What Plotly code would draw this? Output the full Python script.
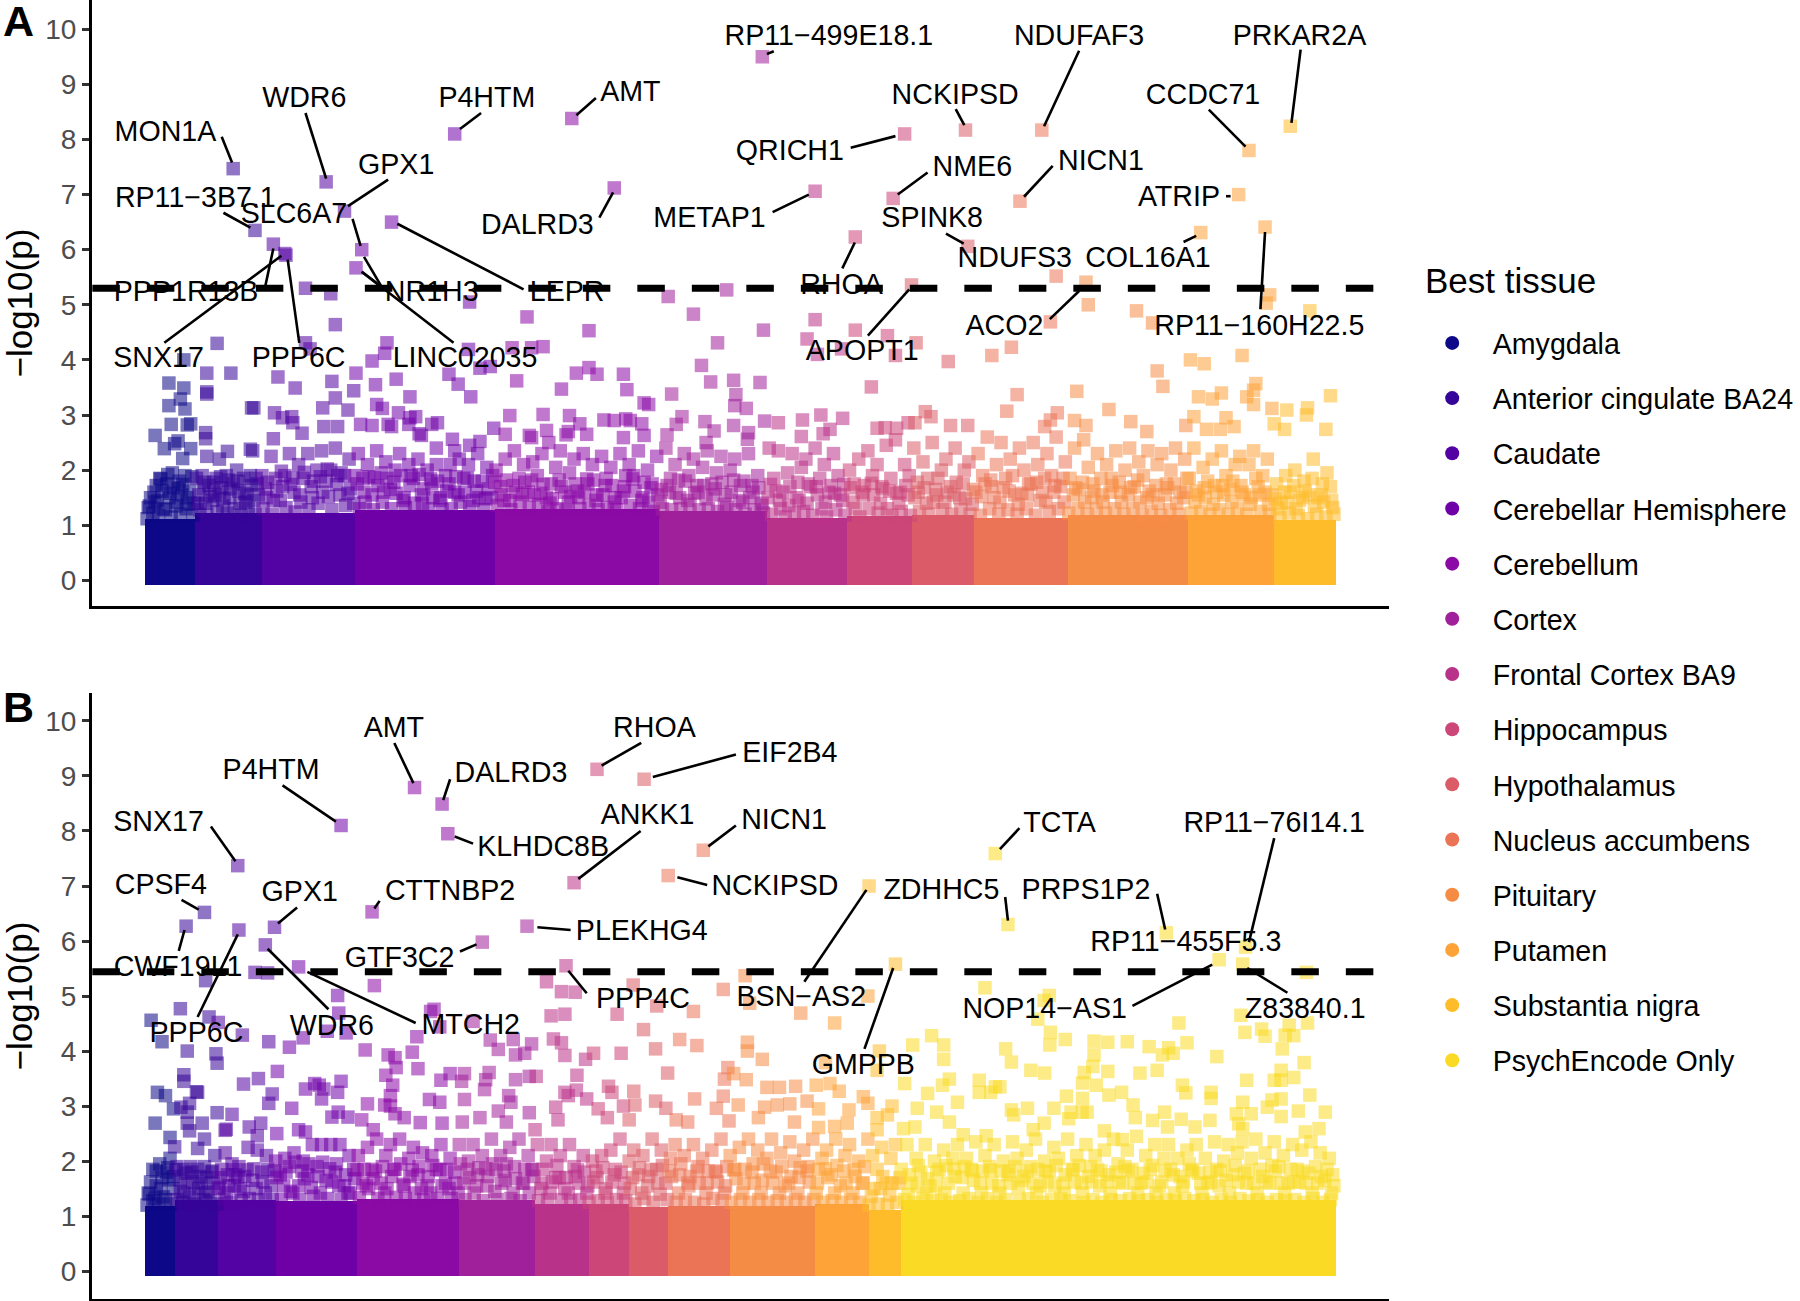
import numpy as np
import plotly.graph_objects as go

TISSUES = ["Amygdala", "Anterior cingulate BA24", "Caudate", "Cerebellar Hemisphere", "Cerebellum", "Cortex",
           "Frontal Cortex BA9", "Hippocampus", "Hypothalamus", "Nucleus accumbens", "Pituitary", "Putamen",
           "Substantia nigra", "PsychEncode Only"]
COLORS = ["#0D0887", "#350498", "#5302A3", "#6F00A8", "#8B0AA5", "#A01F9A", "#B93289", "#CC4678", "#DB5C68",
          "#EB7457", "#F58C46", "#FDA338", "#FEBC2A", "#FADA24"]

# Tissue extents along the genome-order axis
A_EDGES = [126, 170, 228, 309, 431, 574, 668, 738, 794, 848, 930, 1035, 1110, 1164]
B_EDGES = [126, 152, 190, 240, 311, 400, 466, 513, 548, 582, 636, 710, 757, 785, 1164]
# Height up to which each tissue's points merge into a solid mass
A_MASS = [1.12, 1.22, 1.22, 1.28, 1.3, 1.26, 1.14, 1.16, 1.18, 1.14, 1.18, 1.18, 1.1]
B_MASS = [1.18, 1.28, 1.28, 1.26, 1.3, 1.28, 1.22, 1.22, 1.16, 1.18, 1.18, 1.22, 1.1, 1.28]
MASS_FLOOR = -0.09

A_POINTS = [
    (203,7.47),(284,7.23),(396,8.1),(498,8.38),(300,6.7),(341,6.5),(535,7.12),(222,6.35),(238,6.1),(249,5.9),(248,5.93),
    (315,6.0),(310,5.67),(266,5.3),(288,5.2),(409,5.05),(189,4.3),(160,4.0),(147,3.58),(180,3.76),(201,3.76),(160,3.49),
    (180,3.42),(180,3.38),(147,3.17),(157,3.29),(161,3.11),(149,2.83),(166,2.84),(163,2.82),(135,2.63),(155,2.53),(152,2.48),
    (143,2.39),(166,2.39),(159,2.21),(179,2.68),(179,2.57),(219,3.13),(221,3.13),(220,2.35),(218,2.38),(198,2.34),(180,2.25),
    (191,2.2),(242,3.69),(257,3.49),(289,3.61),(292,4.64),(266,4.31),(270,4.2),(292,3.31),(281,3.13),(239,3.04),(246,2.95),
    (254,2.97),(255,2.86),(263,2.67),(238,2.57),(282,2.79),(294,2.79),(303,3.09),(308,3.44),(310,3.76),(324,3.98),(335,4.12),
    (337,4.31),(327,3.55),(345,3.65),(357,3.33),(328,3.19),(333,3.12),(347,3.04),(357,2.95),(362,2.97),(314,2.83),(324,2.81),
    (338,2.83),(341,2.79),(356,2.83),(365,2.66),(367,2.63),(376,2.83),(381,2.86),(391,3.74),(399,3.56),(410,3.33),(418,3.85),
    (427,3.88),(408,4.19),(446,4.22),(463,4.22),(473,4.24),(459,4.78),(513,4.53),(502,3.76),(513,3.86),(520,3.74),(450,3.62),
    (489,3.47),(543,3.74),(546,3.46),(585,3.38),(561,3.22),(565,3.19),(444,2.99),(473,3.01),(496,2.99),(430,2.76),(440,2.65),
    (476,2.72),(495,2.7),(505,2.84),(493,2.64),(511,2.65),(526,2.91),(535,2.9),(545,2.93),(549,2.9),(559,2.84),(594,2.97),
    (589,2.83),(581,2.64),(543,2.59),(561,2.63),(394,2.56),(418,2.52),(380,2.4),(396,2.35),(409,2.45),(478,2.5),(461,2.63),(463,2.59),
    (582,5.15),(604,4.83),(664,9.5),(788,8.1),(841,8.17),(907.5,8.17),(1124,8.24),(1088,7.8),(1079,7.0),(710,7.06),(778,6.93),
    (888.5,6.88),(1046,6.31),(1102,6.41),(745,6.23),(843,6.06),(920,5.52),(946,5.41),(633,5.27),(794,5.36),(1106,5.18),(1103,5.03),
    (948,5.0),(990,4.89),(1141,4.89),(1004,4.67),(915,4.69),(710,4.73),(665,4.54),(745,4.54),(703,4.38),(625,4.31),(773,4.44),
    (798,4.31),(712,4.1),(733,4.2),(780,4.08),(881,4.23),(864,4.08),(826,3.97),(1037,4.0),(1049,3.93),(1082,4.08),(1008,3.8),
    (1013,3.52),(611,3.9),(619,3.6),(639,3.63),(662,3.59),(759,3.51),(641,3.37),(886,3.37),(938,3.43),(1094,3.57),(1092,3.45),
    (1086,3.33),(1044,3.33),(1056,3.29),(1064,3.4),(1092,3.19),(1159,3.35),(640,3.17),(650,3.12),(877,3.07),(966,3.1),(806,3.06),
    (811,2.97),(921,3.04),(1108,3.12),(1121,3.09),(1139,3.13),(1138,3.0),(1040,2.97),(936,2.9),(985,2.88),(666,2.89),(678,2.86),
    (699,2.91),(715,3.0),(734,2.94),(614,2.88),(639,2.81),(622,2.71),(791,2.86),(797,2.86),(781,2.76),(771,2.77),(764,2.76),
    (843,2.81),(828,2.81),(915,2.91),(910,2.79),(946,2.81),(1033,2.81),(1068,2.95),(1051,2.74),(1063,2.74),(1075,2.79),(1110,2.84),
    (1155,2.74),(1119,2.74),(999,2.7),(698,2.61),(717,2.66),(723,2.74),(652,2.68),(615,2.5),(651,2.56),
    # 1 to 2.5 band
    (130,1.35),(134,1.6),(137,1.45),(139,1.85),(142,1.3),(145,1.75),(147,1.5),(150,1.95),(153,1.35),(156,1.8),(158,1.55),(161,1.9),
    (164,1.38),(167,1.88),(169,1.4),(173,1.55),(176,1.9),(179,1.4),(182,1.72),(185,1.45),(188,1.85),(191,1.6),(194,1.35),(197,1.9),
    (200,1.5),(203,1.75),(206,2.0),(209,1.4),(212,1.85),(215,1.55),(218,1.9),(221,1.45),(224,1.75),(228,1.9),(232,1.5),(236,2.25),
    (240,1.85),(244,1.45),(248,1.9),(252,2.3),(256,1.6),(260,2.1),(264,1.85),(268,2.3),(272,1.5),(276,2.0),(280,2.35),(284,1.8),
    (288,2.0),(292,2.4),(296,1.55),(300,1.9),(304,2.2),(308,1.4),(312,2.3),(316,1.85),(320,2.1),(324,1.55),(328,2.35),(332,1.95),
    (336,2.15),(340,1.65),(344,2.0),(348,2.3),(352,1.5),(356,2.1),(360,1.85),(364,2.2),(368,1.4),(372,2.0),(376,1.75),(380,2.1),
    (384,1.5),(388,1.9),(392,2.1),(396,1.6),(400,2.2),(404,1.85),(408,2.1),(412,1.45),(416,2.3),(420,1.8),(424,2.05),(428,1.5),
    (432,2.0),(436,1.7),(440,2.2),(444,1.45),(448,2.35),(452,1.85),(456,2.1),(460,1.6),(464,2.15),(468,1.9),(472,2.3),(476,1.5),
    (480,1.75),(484,2.05),(488,2.35),(492,1.6),(496,1.95),(500,2.2),(504,1.5),(508,2.3),(512,1.75),(516,2.1),(520,1.55),(524,2.25),
    (528,1.85),(532,2.05),(536,1.5),(540,2.3),(544,1.7),(548,2.1),(552,1.9),(556,2.35),(560,1.5),(564,2.0),(568,1.75),(572,2.25),
    (576,1.65),(580,2.4),(584,1.85),(588,2.1),(592,1.5),(596,2.3),(600,1.9),(604,2.2),(608,1.6),(612,2.05),(616,2.35),(620,1.75),
    (624,1.95),(628,2.25),(632,1.55),(636,2.0),(640,2.2),(644,1.45),(648,1.8),(652,2.3),(656,1.6),(660,1.9),(664,1.4),(670,2.4),
    (674,1.85),(678,2.35),(682,1.6),(686,1.95),(690,2.3),(694,1.5),(698,2.05),(702,2.2),(706,1.7),(710,2.4),(714,1.85),(718,2.1),
    (722,1.6),(726,2.3),(730,1.9),(734,1.45),(740,2.0),(744,1.75),(748,2.2),(752,1.55),(756,2.35),(760,1.9),(764,2.1),(768,1.7),
    (772,2.45),(776,1.85),(780,2.55),(784,1.6),(788,2.1),(792,1.9),(796,2.4),(800,1.6),(804,2.15),(808,1.85),(812,2.5),(816,1.55),
    (820,2.0),(824,2.2),(828,1.7),(832,2.4),(836,1.5),(840,2.0),(844,2.15),(848,1.65),(852,2.3),(856,1.9),(860,2.6),(864,1.7),
    (868,2.1),(872,2.5),(876,1.85),(880,2.2),(884,1.55),(888,2.4),(892,2.0),(896,1.75),(900,2.5),(904,2.1),(908,1.6),(912,2.3),
    (916,1.9),(920,2.6),(924,1.7),(928,2.15),(932,1.85),(936,2.4),(940,1.65),(944,2.55),(948,2.05),(952,1.75),(956,2.3),(960,1.55),
    (964,2.1),(968,1.85),(972,2.35),(976,1.6),(980,2.0),(984,2.4),(988,1.7),(992,2.15),(996,1.9),(1000,2.35),(1004,1.55),(1008,2.1),
    (1012,2.3),(1016,1.75),(1020,2.0),(1024,2.4),(1028,1.6),(1032,2.2),(1036,1.85),(1040,2.4),(1044,1.55),(1048,2.05),(1052,1.8),
    (1056,2.2),(1060,1.6),(1064,2.35),(1068,1.9),(1072,1.65),(1076,2.1),(1080,2.25),(1084,1.55),(1088,2.1),(1092,2.35),(1096,1.7),
    (1100,1.9),(1104,2.2),(1108,1.55),(1112,1.75),(1116,1.4),(1120,1.9),(1124,1.6),(1128,2.0),(1132,1.45),(1136,1.8),(1140,1.55),
    (1144,2.2),(1148,1.5),(1152,1.75),(1156,1.95),(1160,1.45),
]

# Crowded points just above the solid mass, panel A
A_DENSE = [
    (128,1.12),(131,1.5),(133,1.22),(136,1.72),(138,1.18),(141,1.62),(144,1.28),(146,1.92),(149,1.15),(151,1.68),(154,1.42),(157,1.2),(159,1.74),
    (162,1.3),(165,1.62),(168,1.18),(171,1.85),(174,1.28),(177,1.66),(180,1.2),(183,1.52),(186,1.78),(189,1.25),(192,1.88),(195,1.48),(198,1.22),
    (201,1.66),(204,1.3),(207,1.8),(210,1.18),(213,1.58),(216,1.3),(219,1.72),(222,1.2),(225,1.55),(229,1.3),(233,1.78),(237,1.2),(241,1.62),(245,1.98),
    (249,1.32),(253,1.74),(257,1.24),(261,1.55),(265,1.96),(269,1.28),(273,1.8),(277,1.4),(281,1.6),(285,2.02),(289,1.28),(293,1.74),(297,1.95),
    (301,1.36),(305,1.66),(309,1.9),(313,1.3),(317,1.6),(321,1.88),(325,1.28),(329,1.72),(333,1.42),(337,1.85),(341,1.3),(345,1.58),(349,1.9),
    (353,1.32),(357,1.72),(361,1.4),(365,1.92),(369,1.66),(373,1.3),(377,1.5),(381,1.8),(385,1.28),(389,1.62),(393,1.3),(397,1.88),(401,1.42),
    (405,1.6),(409,1.34),(413,1.8),(417,1.5),(421,1.28),(425,1.66),(429,1.9),(433,1.36),(437,1.55),(441,1.82),(445,1.28),(449,1.6),(453,1.42),
    (457,1.78),(461,1.32),(465,1.55),(469,1.38),(473,1.74),(477,1.25),(481,1.48),(485,1.3),(489,1.7),(493,1.28),(497,1.52),(501,1.75),(505,1.3),
    (509,1.6),(513,1.36),(517,1.82),(521,1.28),(525,1.55),(529,1.32),(533,1.72),(537,1.28),(541,1.5),(545,1.9),(549,1.36),(553,1.62),(557,1.3),
    (561,1.78),(565,1.42),(569,1.25),(573,1.55),(577,1.3),(581,1.72),(585,1.28),(589,1.58),(593,1.3),(597,1.8),(601,1.38),(605,1.58),(609,1.28),
    (613,1.72),(617,1.3),(621,1.55),(625,1.25),(629,1.78),(633,1.32),(637,1.6),(641,1.28),(645,1.72),(649,1.2),(653,1.5),(657,1.28),(661,1.68),
    (665,1.22),(669,1.5),(672,1.2),(676,1.62),(680,1.3),(684,1.15),(688,1.7),(692,1.22),(696,1.45),(700,1.25),(704,1.75),(708,1.18),(712,1.55),
    (716,1.3),(720,1.15),(724,1.72),(728,1.28),(732,1.55),(736,1.18),(741,1.68),(745,1.3),(749,1.15),(753,1.72),(757,1.3),(761,1.55),(765,1.22),
    (769,1.66),(773,1.3),(777,1.18),(781,1.58),(785,1.25),(789,1.72),(793,1.18),(797,1.5),(801,1.25),(805,1.68),(809,1.2),(813,1.42),(817,1.85),
    (821,1.28),(825,1.6),(829,1.2),(833,1.78),(837,1.28),(841,1.48),(845,1.2),(850,1.6),(854,1.18),(858,1.75),(862,1.3),(866,1.5),(870,1.2),
    (874,1.68),(878,1.28),(882,1.9),(886,1.2),(890,1.58),(894,1.3),(898,1.75),(902,1.18),(906,1.45),(910,1.85),(914,1.25),(918,1.6),(922,1.3),
    (926,1.85),(931,1.22),(935,1.55),(939,1.3),(943,1.78),(947,1.2),(951,1.5),(955,1.3),(959,1.85),(963,1.22),(967,1.6),(971,1.3),(975,1.78),
    (979,1.2),(983,1.55),(987,1.3),(991,1.82),(995,1.18),(999,1.5),(1003,1.25),(1007,1.72),(1011,1.18),(1015,1.55),(1019,1.28),(1023,1.75),
    (1027,1.2),(1031,1.5),(1034,1.85),(1038,1.22),(1042,1.62),(1046,1.25),(1050,1.5),(1054,1.2),(1058,1.72),(1062,1.28),(1066,1.55),(1070,1.2),
    (1074,1.8),(1078,1.3),(1082,1.6),(1086,1.2),(1090,1.5),(1094,1.85),(1098,1.25),(1102,1.6),(1106,1.2),(1111,1.48),(1115,1.14),(1119,1.6),
    (1123,1.22),(1127,1.72),(1131,1.18),(1135,1.5),(1139,1.12),(1143,1.85),(1147,1.2),(1151,1.55),(1155,1.15),(1159,1.7),(1162,1.2),
    # Second layer of the crowded band
    (129,1.32),(135,1.42),(140,1.84),(148,1.58),(155,1.66),(163,1.5),(172,1.4),(178,1.78),(187,1.55),(193,1.68),(199,1.82),(208,1.62),(214,1.42),
    (223,1.85),(231,1.66),(238,1.45),(246,1.7),(255,1.86),(262,1.42),(271,1.7),(279,1.88),(286,1.52),(294,1.9),(303,1.58),(311,1.75),(318,1.42),
    (326,1.86),(334,1.6),(343,1.78),(351,1.45),(358,1.9),(367,1.55),(375,1.84),(383,1.45),(391,1.75),(399,1.55),(407,1.86),(415,1.62),(423,1.48),
    (431,1.78),(439,1.45),(447,1.72),(455,1.56),(463,1.82),(471,1.58),(479,1.4),(487,1.82),(495,1.42),(503,1.62),(511,1.84),(519,1.45),(527,1.72),
    (535,1.42),(543,1.62),(551,1.84),(559,1.45),(567,1.68),(575,1.42),(583,1.6),(591,1.82),(599,1.45),(607,1.72),(615,1.48),(623,1.66),(631,1.38),
    (639,1.82),(647,1.42),(655,1.72),(663,1.36),(671,1.74),(679,1.45),(687,1.36),(695,1.78),(703,1.4),(711,1.7),(719,1.42),(727,1.58),(735,1.74),
    (743,1.42),(751,1.6),(759,1.76),(767,1.4),(775,1.62),(783,1.4),(791,1.55),(799,1.78),(807,1.4),(815,1.65),(823,1.42),(831,1.55),(839,1.75),
    (847,1.38),(855,1.52),(863,1.82),(871,1.42),(879,1.62),(887,1.38),(895,1.55),(903,1.78),(911,1.42),(919,1.72),(927,1.42),(937,1.68),(945,1.42),
    (953,1.62),(961,1.42),(969,1.72),(977,1.42),(985,1.68),(993,1.42),(1001,1.62),(1009,1.4),(1017,1.68),(1025,1.4),(1033,1.6),(1041,1.42),
    (1049,1.68),(1057,1.38),(1065,1.72),(1073,1.42),(1081,1.72),(1089,1.38),(1097,1.55),(1105,1.38),(1113,1.3),(1121,1.42),(1129,1.3),(1137,1.62),
    (1145,1.35),(1153,1.42),(1161,1.32),
]

B_POINTS = [
    (207,7.37),(297,8.1),(361,8.79),(385,8.49),(390,7.95),(520,9.12),(561,8.94),(500,7.06),(612.6,7.65),(582,7.19),(178,6.52),(162,6.27),
    (208,6.2),(239,6.25),(324,6.53),(459,6.27),(420,5.98),(231,5.93),(260,5.53),(222,5.43),(233,5.42),(493,5.55),(179,5.28),(326,5.19),
    (476,5.26),(294,5.01),(489,5.08),(501,5.07),(551.5,5.2),(157,4.77),(295,4.69),(378,4.76),(375,4.72),(131.5,4.56),(182,4.62),(190,4.52),
    (412,4.54),(480,4.64),(492,4.67),(537.5,4.67),(572,4.82),(604,4.72),(141,4.17),(163,4.0),(211,4.29),(234,4.17),(252,4.07),(264,4.24),
    (285,4.36),(301.4,4.33),(318,4.02),(363,4.26),(383,4.44),(427,4.2),(447,4.21),(463,4.13),(434,4.03),(482,4.22),(489,4.15),(492,3.92),
    (560.5,4.39),(592,4.21),(571,4.04),(607,4.1),(188,3.95),(189,3.78),(338,3.93),(344,3.88),(345,3.7),(359,3.98),(364,3.68),(449,3.93),
    (457,3.96),(510,3.85),(517,3.96),(541,3.96),(581.5,3.6),(241.5,3.63),(160,3.57),(160,3.45),(225,3.5),(212,3.4),(336,3.56),(342,3.38),
    (384,3.47),(392,3.59),(402,3.45),(404.5,3.59),(426,3.61),(423,3.48),(422,3.3),(449,3.48),(461,3.54),(467,3.54),(502.5,3.56),(137,3.25),
    (144,3.19),(172,3.25),(171,3.26),(274,3.41),(278,3.38),(297,3.45),(266,3.31),(282,3.31),(294,3.25),(280,3.13),(237,3.22),(234,3.05),
    (254,2.96),(340,3.19),(340,3.0),(320,3.04),(335,3.02),(374,3.12),(383,3.07),(404.5,3.12),(443,3.19),(445,3.07),(502,3.29),(492,3.25),
    (495,3.19),(530,3.36),(533,3.25),(552,3.27),(543,3.0),(553,3.02),(571,3.09),(605,3.13),(580,2.96),(165,3.05),(151,2.95),(157.5,2.98),
    (163,2.89),(484,2.98),(511,3.13),(521,2.95),(189,2.88),(202,2.85),(135,2.69),(163,2.69),(176,2.69),(165,2.55),(197,2.58),(196,2.56),
    (217,2.62),(227,2.69),(148,2.43),(178,2.4),(152,2.26),(172,2.23),(224,2.46),(241,2.5),(260,2.57),(266,2.53),(289,2.8),(294.5,2.89),
    (303,2.8),(315,2.75),(325,2.57),(344,2.86),(352,2.79),(366,2.7),(385,2.69),(402.6,2.71),(418,2.79),(434,2.91),(441,2.71),(461,2.88),
    (486,2.75),(466,2.57),(529,2.79),(548,2.75),(589,2.75),(599,2.71),
    (757,7.0),(867,7.59),(878,6.3),(1016,6.15),(1085,5.89),(1062,5.66),(1082.6,5.58),(1138,5.43),(780,5.58),(649,5.37),(630,5.12),(653,4.87),
    (756,5.0),(697.5,4.69),(727,4.51),(858,5.15),(909.5,4.92),(914,5.01),(904,4.58),(1027,4.51),(1081,4.65),(1139,4.51),(915,4.34),(914.5,4.11),
    (928,4.21),(953,4.18),(965,4.16),(982,4.17),(953,3.93),(1001,4.08),(1018,4.06),(1022,3.96),(1012.6,3.93),(1034,4.15),(1060,3.9),(1084.5,4.34),
    (1099,4.4),(1102,4.27),(1123,4.47),(1119.5,4.29),(1127,4.28),(1117,4.04),(1136,3.79),(766,4.0),(795,4.11),(811.5,4.28),(822,4.11),(822,3.85),
    (876,4.04),(881,3.8),(898,3.65),(910,3.6),(944.5,3.61),(952,3.72),(965,3.63),(993,3.6),(1008,3.65),(943,3.42),(955,3.38),(966,3.2),(977,3.25),
    (853,3.47),(867,3.35),(871,3.35),(863,3.25),(853,3.25),(821,3.38),(827,3.49),(808,3.23),(834,3.07),(929,3.18),(943,3.14),(1030,3.38),(1033,3.24),
    (1055,3.25),(1055,3.14),(1086,3.47),(1116,3.65),(1110,3.47),(1127,3.52),(1116,3.47),(1141,3.2),(1082.6,3.07),(1116,3.13),(1108,3.11),(1104,2.98),
    (987,3.02),(989,2.79),(942.6,2.89),(918,2.96),(895,2.96),(881,2.93),(883,2.84),(933,2.89),(947,2.89),(931,2.77),(1014.5,2.89),(1004,2.74),
    (1029,2.76),(1054,2.74),(1077,2.86),(1090,2.86),(1079,2.68),(1116,2.81),(1131,2.91),(1154.5,2.89),(1149,2.59),(1137,2.53),(1082.6,2.59),
    (1041,2.62),(1017,2.62),(977.6,2.39),(962,2.55),(909.5,2.69),(900,2.57),(859,2.46),(839,2.48),(827,2.71),(797,2.62),(799,2.96),(816,2.89),
    (777,3.0),(773,2.84),(756,3.05),(739.5,2.93),(752,3.17),(731,3.27),(723,3.41),(788,3.41),(764,3.65),(719,3.79),(664,3.85),(651,4.16),(651,4.0),
    (634,3.7),(639,3.59),(631,3.49),(650,3.48),(668,3.34),(679,3.34),(693,3.36),(711,3.38),(630,3.18),(643,3.02),(624,2.96),(666,2.98),(677,3.02),
    (688,3.04),(703,3.09),(635,2.73),(660.6,2.79),(692,2.71),(713,2.95),(713,2.61),(727,2.63),(738,2.69),(764,2.79),(764,2.57),(787,2.59),
    # 1 to 2.5 band
    (130,1.4),(133,1.85),(136,1.55),(139,1.95),(142,1.35),(145,1.8),(148,2.05),(151,1.5),(154,1.9),(157,1.45),(160,1.85),(163,1.6),(166,1.9),
    (169,1.4),(172,1.85),(175,1.6),(178,1.9),(181,1.45),(184,1.8),(187,2.1),(190,1.5),(193,1.85),(196,2.15),(199,1.55),(202,1.95),(205,1.75),
    (208,1.9),(212,1.45),(216,2.25),(220,1.65),(224,2.2),(228,1.8),(232,2.1),(236,1.55),(240,2.0),(244,1.75),(248,2.05),(252,1.9),(256,2.15),
    (260,1.55),(264,2.0),(268,1.75),(272,2.3),(276,1.9),(280,2.3),(284,1.65),(288,2.3),(292,1.8),(296,2.3),(300,1.55),(304,2.1),(308,1.85),
    (312,2.1),(316,1.6),(320,2.25),(324,1.85),(328,2.4),(332,1.6),(336,2.1),(340,2.3),(344,1.85),(348,2.4),(352,1.55),(356,2.05),(360,2.25),
    (364,1.75),(368,2.15),(372,1.55),(376,2.1),(380,1.85),(384,2.3),(388,1.6),(392,2.05),(396,1.8),(400,2.3),(404,1.6),(408,2.0),(412,2.3),
    (416,1.75),(420,2.1),(424,1.55),(428,2.4),(432,1.85),(436,2.1),(440,1.65),(444,2.25),(448,1.9),(452,2.4),(456,1.6),(460,2.1),(464,1.85),
    (468,2.3),(472,1.6),(476,2.0),(480,2.3),(484,1.7),(488,2.1),(492,1.5),(496,2.3),(500,1.9),(504,1.6),(508,2.1),(512,1.55),(516,2.0),(520,1.7),
    (524,2.1),(528,1.5),(532,2.2),(536,1.85),(540,2.4),(544,1.6),(548,2.0),(552,2.2),(556,1.75),(560,2.1),(564,1.55),(568,2.4),(572,1.85),
    (576,2.2),(580,1.6),(584,2.05),(588,2.3),(592,1.75),(596,2.1),(600,1.55),(604,2.3),(608,1.9),(612,2.05),(616,1.6),(620,2.2),(624,1.8),
    (628,2.4),(632,1.55),(636,2.1),(640,1.85),(644,2.25),(648,1.6),(652,2.4),(656,1.95),(660,2.2),(664,1.65),(668,2.05),(672,2.4),(676,1.8),
    (680,2.15),(684,1.55),(688,2.35),(692,2.0),(696,1.7),(700,2.2),(704,1.9),(708,2.4),(712,1.6),(716,2.05),(720,2.2),(724,1.75),(728,2.4),
    (732,1.55),(736,2.1),(740,2.3),(744,1.85),(748,2.0),(752,1.6),(756,2.4),(760,2.1),(764,1.85),(768,2.25),(772,1.6),(776,2.05),(780,2.3),
    (784,1.7),(790,2.3),(794,1.6),(798,2.05),(802,1.8),(806,2.3),(810,1.55),(814,2.0),(818,1.85),(822,2.2),(826,1.6),(830,2.05),(834,2.3),
    (838,1.7),(842,2.05),(846,1.85),(850,2.35),(854,1.6),(858,2.1),(862,1.9),(866,2.3),(870,1.55),(874,2.0),(878,1.75),(882,2.35),(886,2.05),
    (890,1.65),(894,2.2),(898,1.9),(902,2.4),(906,1.55),(910,2.0),(914,1.8),(918,2.25),(922,2.05),(926,1.6),(930,2.4),(934,1.85),(938,2.1),
    (942,1.6),(946,2.3),(950,1.9),(954,2.1),(958,1.55),(962,2.2),(966,1.75),(970,2.4),(974,1.95),(978,1.6),(982,2.2),(986,1.85),(990,2.45),
    (994,1.6),(998,2.1),(1002,1.85),(1006,2.3),(1010,1.55),(1014,2.05),(1018,2.3),(1022,1.75),(1026,2.05),(1030,1.55),(1034,2.2),(1038,1.85),
    (1042,2.3),(1046,1.6),(1050,2.05),(1054,1.8),(1058,2.35),(1062,1.55),(1066,2.0),(1070,2.3),(1074,1.75),(1078,2.15),(1082,2.35),(1086,1.6),
    (1090,2.05),(1094,2.4),(1098,1.85),(1102,2.15),(1106,1.6),(1110,2.35),(1114,1.9),(1118,2.1),(1122,1.6),(1126,2.3),(1130,1.85),(1134,2.2),
    (1138,1.6),(1142,2.35),(1146,1.9),(1150,2.15),(1154,1.65),(1158,2.05),(1161,1.75),
]

# Crowded points just above the solid mass, panel B
B_DENSE = [
    (128,1.2),(131,1.62),(133,1.28),(136,1.82),(138,1.22),(141,1.7),(144,1.3),(146,1.88),(149,1.22),(151,1.72),(154,1.3),(157,1.66),(159,1.25),
    (162,1.78),(165,1.35),(168,1.62),(171,1.22),(174,1.72),(177,1.3),(180,1.7),(183,1.28),(186,1.6),(189,1.22),(192,1.7),(195,1.3),(198,1.75),
    (201,1.25),(204,1.55),(207,1.7),(210,1.28),(213,1.72),(217,1.32),(221,1.86),(225,1.3),(229,1.62),(233,1.85),(237,1.3),(241,1.7),(245,1.3),
    (249,1.8),(253,1.45),(257,1.98),(261,1.3),(265,1.68),(269,1.95),(273,1.36),(277,1.72),(281,1.98),(285,1.32),(289,1.62),(293,1.95),(297,1.3),
    (301,1.75),(305,1.42),(309,1.68),(313,1.34),(317,1.85),(321,1.5),(325,1.68),(329,1.32),(333,1.9),(337,1.5),(341,1.72),(345,1.34),(349,1.95),
    (353,1.32),(357,1.72),(361,1.42),(365,1.9),(369,1.3),(373,1.72),(377,1.92),(381,1.32),(385,1.55),(389,1.85),(393,1.32),(397,1.6),(401,1.95),
    (405,1.3),(409,1.7),(413,1.42),(417,1.88),(421,1.28),(425,1.72),(429,1.95),(433,1.3),(437,1.6),(441,1.95),(445,1.32),(449,1.68),(453,1.28),
    (457,1.85),(461,1.42),(465,1.72),(469,1.28),(473,1.85),(477,1.3),(481,1.62),(485,1.92),(489,1.3),(493,1.7),(497,1.28),(501,1.72),(505,1.3),
    (509,1.8),(513,1.25),(517,1.62),(521,1.28),(525,1.88),(529,1.25),(533,1.62),(537,1.3),(541,1.8),(545,1.28),(549,1.5),(553,1.22),(557,1.88),
    (561,1.32),(565,1.72),(569,1.25),(573,1.6),(577,1.92),(581,1.3),(585,1.72),(589,1.25),(593,1.95),(597,1.3),(601,1.72),(605,1.25),(609,1.6),
    (613,1.22),(617,1.82),(621,1.32),(625,1.62),(629,1.28),(633,1.9),(637,1.25),(641,1.68),(645,1.3),(649,1.85),(653,1.25),(657,1.6),(661,1.3),
    (665,1.95),(669,1.25),(673,1.6),(677,1.28),(681,1.9),(685,1.25),(689,1.72),(693,1.3),(697,1.88),(701,1.25),(705,1.62),(709,1.3),(713,1.85),
    (717,1.25),(721,1.7),(725,1.28),(729,1.92),(733,1.25),(737,1.6),(741,1.3),(745,1.72),(749,1.25),(753,1.9),(757,1.2),(761,1.5),(765,1.22),
    (769,1.72),(773,1.2),(777,1.6),(781,1.25),(785,1.85),(788,1.3),(792,1.75),(796,1.25),(800,1.92),(804,1.32),(808,1.68),(812,1.28),(816,1.8),
    (820,1.3),(824,1.92),(828,1.25),(832,1.72),(836,1.28),(840,1.9),(844,1.32),(848,1.65),(852,1.25),(856,1.82),(860,1.32),(864,1.6),(868,1.25),
    (872,1.82),(876,1.3),(880,1.6),(884,1.9),(888,1.28),(892,1.72),(896,1.32),(900,1.6),(904,1.85),(908,1.25),(912,1.62),(916,1.3),(920,1.92),
    (924,1.32),(928,1.75),(932,1.28),(936,1.62),(940,1.92),(944,1.25),(948,1.72),(952,1.3),(956,1.85),(960,1.25),(964,1.62),(968,1.3),(972,1.8),
    (976,1.28),(980,1.9),(984,1.32),(988,1.6),(992,1.28),(996,1.78),(1000,1.3),(1004,1.92),(1008,1.25),(1012,1.62),(1016,1.3),(1020,1.85),(1024,1.28),
    (1028,1.72),(1032,1.32),(1036,1.95),(1040,1.28),(1044,1.78),(1048,1.3),(1052,1.6),(1056,1.25),(1060,1.85),(1064,1.3),(1068,1.65),(1072,1.25),
    (1076,1.92),(1080,1.32),(1084,1.78),(1088,1.28),(1092,1.6),(1096,1.3),(1100,1.72),(1104,1.25),(1108,1.92),(1112,1.3),(1116,1.6),(1120,1.28),
    (1124,1.85),(1128,1.3),(1132,1.62),(1136,1.25),(1140,1.78),(1144,1.32),(1148,1.6),(1152,1.25),(1156,1.85),(1159,1.3),(1162,1.55),
    # Second layer of the crowded band
    (129,1.42),(135,1.32),(140,1.5),(147,1.66),(153,1.84),(160,1.42),(167,1.8),(173,1.5),(179,1.42),(185,1.82),(191,1.52),(197,1.42),(203,1.84),
    (209,1.5),(215,1.84),(223,1.5),(231,1.42),(239,1.82),(247,1.55),(255,1.42),(263,1.82),(271,1.52),(279,1.42),(287,1.86),(295,1.55),(303,1.42),
    (311,1.84),(319,1.55),(327,1.82),(335,1.42),(343,1.85),(351,1.58),(359,1.84),(367,1.5),(375,1.42),(383,1.84),(391,1.5),(399,1.42),(407,1.85),
    (415,1.55),(423,1.86),(431,1.45),(439,1.82),(447,1.42),(455,1.6),(463,1.84),(471,1.5),(479,1.42),(487,1.7),(495,1.42),(503,1.84),(511,1.42),
    (519,1.82),(527,1.42),(535,1.75),(543,1.42),(551,1.7),(559,1.42),(567,1.84),(575,1.4),(583,1.82),(591,1.42),(599,1.6),(607,1.82),(615,1.42),
    (623,1.82),(631,1.42),(639,1.84),(647,1.42),(655,1.8),(663,1.42),(671,1.82),(679,1.42),(687,1.6),(695,1.42),(703,1.82),(711,1.42),(719,1.86),
    (727,1.42),(735,1.82),(743,1.42),(751,1.6),(759,1.36),(767,1.5),(775,1.38),(783,1.6),(791,1.4),(799,1.55),(807,1.42),(815,1.55),(823,1.42),
    (831,1.86),(839,1.42),(847,1.82),(855,1.42),(863,1.84),(871,1.42),(879,1.82),(887,1.52),(895,1.82),(903,1.42),(911,1.82),(919,1.55),(927,1.42),
    (935,1.84),(943,1.42),(951,1.62),(959,1.82),(967,1.42),(975,1.62),(983,1.82),(991,1.42),(999,1.62),(1007,1.42),(1015,1.82),(1023,1.42),
    (1031,1.62),(1039,1.82),(1047,1.42),(1055,1.62),(1063,1.82),(1071,1.42),(1079,1.62),(1087,1.82),(1095,1.42),(1103,1.62),(1111,1.82),(1119,1.42),
    (1127,1.62),(1135,1.82),(1143,1.42),(1151,1.72),(1160,1.42),
]

THRESHOLD_A = 5.3
THRESHOLD_B = 5.44

# Gene labels: (name, label position, label -log10p)
A_LABELS = [("RP11−499E18.1",722,9.835),("NDUFAF3",940,9.835),("PRKAR2A",1132,9.835),("NCKIPSD",832,8.77),("CCDC71",1048,8.77),
            ("AMT",549,8.82),("P4HTM",424,8.71),("WDR6",265,8.71),("MON1A",144,8.11),("QRICH1",688,7.75),("NME6",847,7.46),
            ("NICN1",959,7.57),("GPX1",345,7.5),("RP11−3B7.1",170,6.9),("SLC6A7",256,6.61),("METAP1",618,6.54),("SPINK8",812,6.54),
            ("ATRIP",1027,6.93),("DALRD3",468,6.42),("NDUFS3",884,5.81),("COL16A1",1000,5.81),("RHOA",733,5.32),("PPP1R13B",162,5.19),
            ("NR1H3",376,5.19),("LEPR",494,5.19),("ACO2",875,4.59),("RP11−160H22.5",1097,4.59),("APOPT1",751,4.13),("SNX17",138,4.0),
            ("PPP6C",260,4.0),("LINC02035",405,4.0)]
B_LABELS = [("AMT",343,9.84),("RHOA",570,9.84),("EIF2B4",688,9.38),("P4HTM",236,9.07),("DALRD3",445,9.02),("SNX17",138,8.13),
            ("ANKK1",564,8.25),("NICN1",683,8.17),("TCTA",923,8.11),("RP11−76I14.1",1110,8.11),("KLHDC8B",473,7.67),("CPSF4",140,6.98),
            ("CTTNBP2",392,6.88),("GPX1",261,6.86),("NCKIPSD",675,6.96),("ZDHHC5",820,6.9),("PRPS1P2",946,6.9),("PLEKHG4",559,6.15),
            ("RP11−455F5.3",1033,5.94),("GTF3C2",348,5.65),("CWF19L1",155,5.5),("PPP4C",560,4.92),("BSN−AS2",698,4.94),
            ("NOP14−AS1",910,4.73),("Z83840.1",1137,4.73),("MTCH2",410,4.44),("PPP6C",171,4.29),("WDR6",289,4.42),("GMPPB",752,3.71)]

# Leader lines: (pos from, pos to, p from, p to)
A_LEADERS = [(193,202,8.05,7.58),(266,284,8.48,7.29),(419,400.6,8.48,8.19),(519,502,8.75,8.44),(338,303,7.27,6.79),(522,534,6.58,7.04),
             (194.5,218,6.67,6.4),(456,346,5.28,6.47),(307,314,6.56,6.07),(332.5,317,5.32,5.87),(332.5,315,5.32,5.6),(395,315,4.31,5.6),
             (231,238,5.34,6.02),(143,245,4.31,5.89),(260.6,250.5,4.31,5.82),(674,668,9.6,9.55),(940,909.5,9.61,8.24),(1133,1125,9.63,8.3),
             (832.5,840,8.55,8.26),(741,780,7.85,8.06),(1053,1085,8.54,7.87),(808,782,7.4,7.0),(917,892,7.52,6.96),(673,704.5,6.68,7.0),
             (1068,1072,6.97,6.97),(824,839.5,6.29,6.11),(1031,1042,6.14,6.25),(1098,1102,4.92,6.32),(733.7,744.6,5.66,6.13),(756,792,4.44,5.28),
             (914.5,940,4.74,5.25)]
B_LEADERS = [(246,292.5,8.83,8.17),(343.4,360,9.6,8.87),(392,386,8.94,8.56),(183.6,205,8.08,7.45),(396,412,7.9,7.77),(558.5,524,9.6,9.19),
             (568.6,641,8.98,9.39),(558,503.7,8.0,7.13),(641,617,8.1,7.72),(590,616,7.16,7.02),(158,173,6.75,6.57),(258.7,242,6.61,6.32),
             (330.6,326,6.73,6.59),(468,497,6.25,6.2),(400.6,415,5.81,5.94),(160.6,155.6,6.2,5.82),(495,511,5.46,5.05),(233,286,5.86,4.76),
             (267.6,362,5.44,4.51),(207,172,6.12,4.62),(888,871,8.05,7.67),(875.6,878,6.8,6.37),(754.7,700.6,6.93,5.26),(778,753,5.51,4.04),
             (1008,1015,6.86,6.21),(1110,1088,7.87,5.98),(986.5,1056,4.82,5.57),(1121.5,1086.5,5.06,5.51)]

FONT = "Liberation Sans"
fig = go.Figure()


def add_panel(points, edges, mass, threshold, labels, leaders, xa, ya, tissues):
    pts = np.array(points, dtype=float)
    idx = np.clip(np.searchsorted(edges, pts[:, 0], side="right") - 1, 0, len(edges) - 2)
    for i, t in enumerate(tissues):
        left, right = edges[i], edges[i + 1]
        fig.add_trace(go.Bar(x=[(left + right) / 2], y=[mass[i] - MASS_FLOOR], base=[MASS_FLOOR], width=[right - left],
                             marker=dict(color=COLORS[i], line=dict(width=0)), showlegend=False, xaxis=xa, yaxis=ya, hoverinfo="skip"))
    for i, t in enumerate(tissues):
        m = idx == i
        fig.add_trace(go.Scatter(x=pts[m, 0], y=pts[m, 1], mode="markers", name=t, showlegend=False, xaxis=xa, yaxis=ya,
                                 marker=dict(symbol="square", size=13.5, color=COLORS[i], opacity=0.55, line=dict(width=0))))
    fig.add_trace(go.Scatter(x=[80.3, 1198.6], y=[threshold, threshold], mode="lines", showlegend=False, xaxis=xa, yaxis=ya,
                             line=dict(color="black", width=7, dash="27.5px,27px")))
    lx, ly = [], []
    for x0, x1, y0, y1 in leaders:
        lx += [x0, x1, None]
        ly += [y0, y1, None]
    fig.add_trace(go.Scatter(x=lx, y=ly, mode="lines", showlegend=False, xaxis=xa, yaxis=ya,
                             line=dict(color="black", width=2.6)))
    fig.add_trace(go.Scatter(x=[l[1] for l in labels], y=[l[2] for l in labels], text=[l[0] for l in labels], mode="text",
                             textposition="middle center", cliponaxis=False, showlegend=False, xaxis=xa, yaxis=ya,
                             textfont=dict(family=FONT, size=28.6, color="black")))


add_panel(A_POINTS + A_DENSE, A_EDGES, A_MASS, THRESHOLD_A, A_LABELS, A_LEADERS, "x", "y", TISSUES[:13])
add_panel(B_POINTS + B_DENSE, B_EDGES, B_MASS, THRESHOLD_B, B_LABELS, B_LEADERS, "x2", "y2", TISSUES)

for i, t in enumerate(TISSUES):
    fig.add_trace(go.Scatter(x=[None], y=[None], mode="markers", name=t, legendgroup=t, showlegend=True,
                             marker=dict(symbol="circle", size=14, color=COLORS[i])))

W, H = 1800, 1301
xcommon = dict(range=[80, 1210], showgrid=False, zeroline=False, showticklabels=False, ticks="",
               showline=True, linecolor="black", linewidth=3)
ycommon = dict(tickmode="array", tickvals=list(range(0, 11)), showgrid=False, zeroline=False, showline=True,
               linecolor="black", linewidth=3, ticks="outside", ticklen=7, tickwidth=2.5, tickcolor="#333333",
               tickfont=dict(family=FONT, size=28, color="#4D4D4D"),
               title=dict(text="−log10(p)", font=dict(family=FONT, size=35, color="black"), standoff=14))

fig.update_layout(
    width=W, height=H, margin=dict(l=92, r=411, t=0, b=0), paper_bgcolor="white", plot_bgcolor="white",
    barmode="overlay", bargap=0,
    xaxis=dict(domain=[0, 1], anchor="y", **xcommon),
    yaxis=dict(domain=[0.534, 1.0], range=[-0.47, 10.53], anchor="x", **ycommon),
    xaxis2=dict(domain=[0, 1], anchor="y2", **xcommon),
    yaxis2=dict(domain=[0.0018, 0.467], range=[-0.5, 10.5], anchor="x2", **ycommon),
    legend=dict(x=1.0175, xanchor="left", y=0.7557, yanchor="top", traceorder="grouped", tracegroupgap=15, itemclick=False,
                font=dict(family=FONT, size=28.6, color="black"), bgcolor="rgba(0,0,0,0)", itemwidth=71),
    annotations=[
        dict(text="<b>A</b>", xref="paper", yref="paper", x=-0.0705, y=1 - 21 / H, xanchor="left", yanchor="middle", showarrow=False,
             font=dict(family=FONT, size=43, color="black")),
        dict(text="<b>B</b>", xref="paper", yref="paper", x=-0.0705, y=1 - 707 / H, xanchor="left", yanchor="middle", showarrow=False,
             font=dict(family=FONT, size=43, color="black")),
        dict(text="Best tissue", xref="paper", yref="paper", x=(1423 - 92) / 1297, y=1 - 280 / H, xanchor="left", yanchor="middle",
             showarrow=False, font=dict(family=FONT, size=35, color="black")),
    ],
)

fig.write_html("out.html", config={"displayModeBar": False},
               post_script="document.body.style.margin='0';document.body.style.overflow='hidden';")
